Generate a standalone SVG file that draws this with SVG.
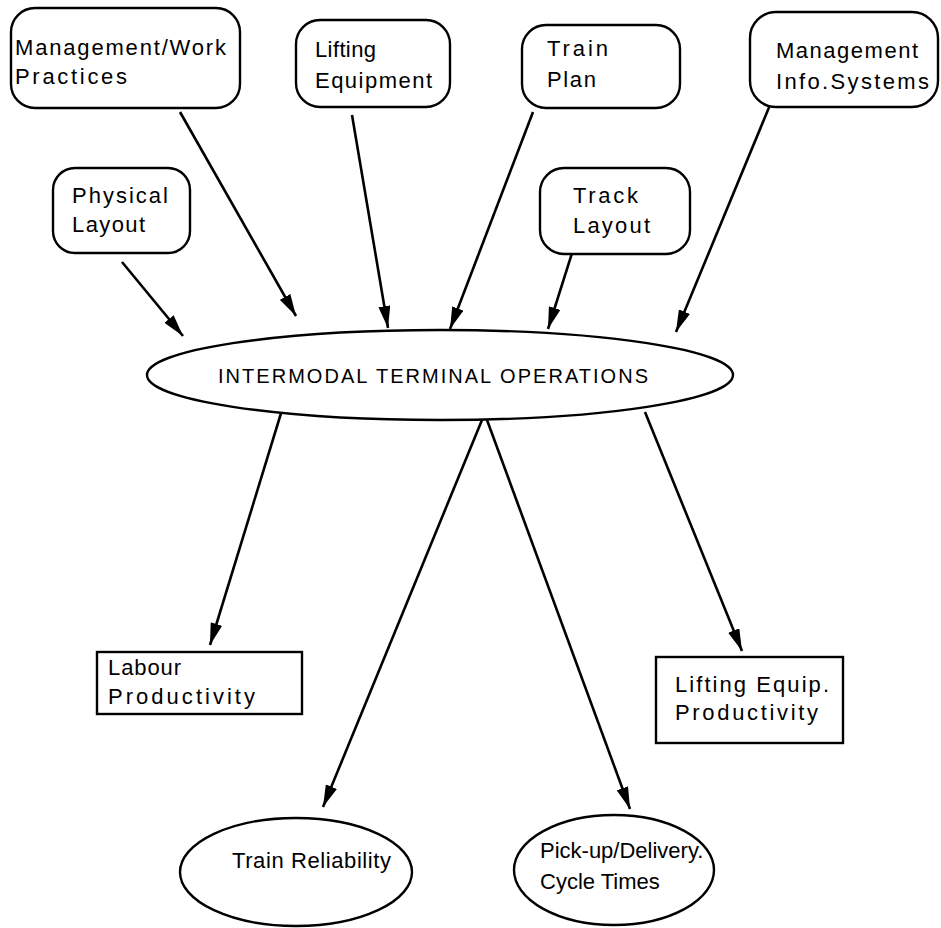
<svg xmlns="http://www.w3.org/2000/svg" width="941" height="928" viewBox="0 0 941 928">
<style>
  .box { fill: #fff; stroke: #000; stroke-width: 2.4; }
  .lbl { font-family: "Liberation Sans", Arial, sans-serif; font-size: 22px; fill: #000; }
  .big { font-family: "Liberation Sans", Arial, sans-serif; font-size: 20px; fill: #000; }
  .edge { stroke: #000; stroke-width: 2.6; fill: none; marker-end: url(#ah); }
</style>
<defs>
  <marker id="ah" markerUnits="userSpaceOnUse" markerWidth="24" markerHeight="12" refX="22" refY="6" orient="auto">
    <path d="M0,0 L22,6 L0,12 z" fill="#000"/>
  </marker>
</defs>
<rect width="941" height="928" fill="#fff"/>
<g id="connectors">
  <line class="edge" x1="122" y1="262" x2="183" y2="336"/>
  <line class="edge" x1="180" y1="112" x2="296" y2="316"/>
  <line class="edge" x1="352" y1="115" x2="388" y2="328"/>
  <line class="edge" x1="533" y1="112" x2="450" y2="329"/>
  <line class="edge" x1="573" y1="250" x2="548" y2="329"/>
  <line class="edge" x1="770" y1="105" x2="676" y2="332"/>
  <line class="edge" x1="282" y1="410" x2="210" y2="645"/>
  <line class="edge" x1="482" y1="420" x2="323" y2="807"/>
  <line class="edge" x1="487" y1="420" x2="630" y2="809"/>
  <line class="edge" x1="645" y1="412" x2="742" y2="651"/>
</g>
<g id="mgmt-work">
  <rect class="box" x="11" y="8" width="229" height="100" rx="24"/>
  <text class="lbl" x="15" y="55" textLength="211" lengthAdjust="spacing">Management/Work</text>
  <text class="lbl" x="15" y="84" textLength="112" lengthAdjust="spacing">Practices</text>
</g>
<g id="lifting-equipment">
  <rect class="box" x="296" y="20" width="154" height="87" rx="24"/>
  <text class="lbl" x="315" y="57" textLength="61" lengthAdjust="spacing">Lifting</text>
  <text class="lbl" x="315" y="88" textLength="117" lengthAdjust="spacing">Equipment</text>
</g>
<g id="train-plan">
  <rect class="box" x="522" y="25" width="158" height="83" rx="24"/>
  <text class="lbl" x="547" y="56" textLength="61" lengthAdjust="spacing">Train</text>
  <text class="lbl" x="547" y="87" textLength="49" lengthAdjust="spacing">Plan</text>
</g>
<g id="mgmt-info">
  <rect class="box" x="750" y="12" width="188" height="95" rx="26"/>
  <text class="lbl" x="776" y="58" textLength="142" lengthAdjust="spacing">Management</text>
  <text class="lbl" x="776" y="89" textLength="153" lengthAdjust="spacing">Info.Systems</text>
</g>
<g id="physical-layout">
  <rect class="box" x="53" y="168" width="137" height="85" rx="22"/>
  <text class="lbl" x="72" y="203" textLength="96" lengthAdjust="spacing">Physical</text>
  <text class="lbl" x="72" y="232" textLength="73" lengthAdjust="spacing">Layout</text>
</g>
<g id="track-layout">
  <rect class="box" x="540" y="168" width="150" height="86" rx="24"/>
  <text class="lbl" x="573" y="203" textLength="65" lengthAdjust="spacing">Track</text>
  <text class="lbl" x="573" y="233" textLength="77" lengthAdjust="spacing">Layout</text>
</g>
<g id="terminal-operations">
  <ellipse class="box" cx="440" cy="375" rx="293" ry="45"/>
  <text class="big" x="218" y="383" textLength="430" lengthAdjust="spacing">INTERMODAL TERMINAL OPERATIONS</text>
</g>
<g id="labour-productivity">
  <rect class="box" x="97" y="652" width="205" height="62"/>
  <text class="lbl" x="108" y="675" textLength="73" lengthAdjust="spacing">Labour</text>
  <text class="lbl" x="108" y="704" textLength="147" lengthAdjust="spacing">Productivity</text>
</g>
<g id="lifting-equip-productivity">
  <rect class="box" x="656" y="657" width="187" height="86"/>
  <text class="lbl" x="675" y="692" textLength="154" lengthAdjust="spacing">Lifting Equip.</text>
  <text class="lbl" x="675" y="720" textLength="143" lengthAdjust="spacing">Productivity</text>
</g>
<g id="train-reliability">
  <ellipse class="box" cx="296" cy="872" rx="116" ry="54"/>
  <text class="lbl" x="232" y="868" textLength="159" lengthAdjust="spacing">Train Reliability</text>
</g>
<g id="pickup-delivery">
  <ellipse class="box" cx="614" cy="870" rx="100" ry="55"/>
  <text class="lbl" x="540" y="858">Pick-up/Delivery.</text>
  <text class="lbl" x="540" y="889">Cycle Times</text>
</g>
</svg>
